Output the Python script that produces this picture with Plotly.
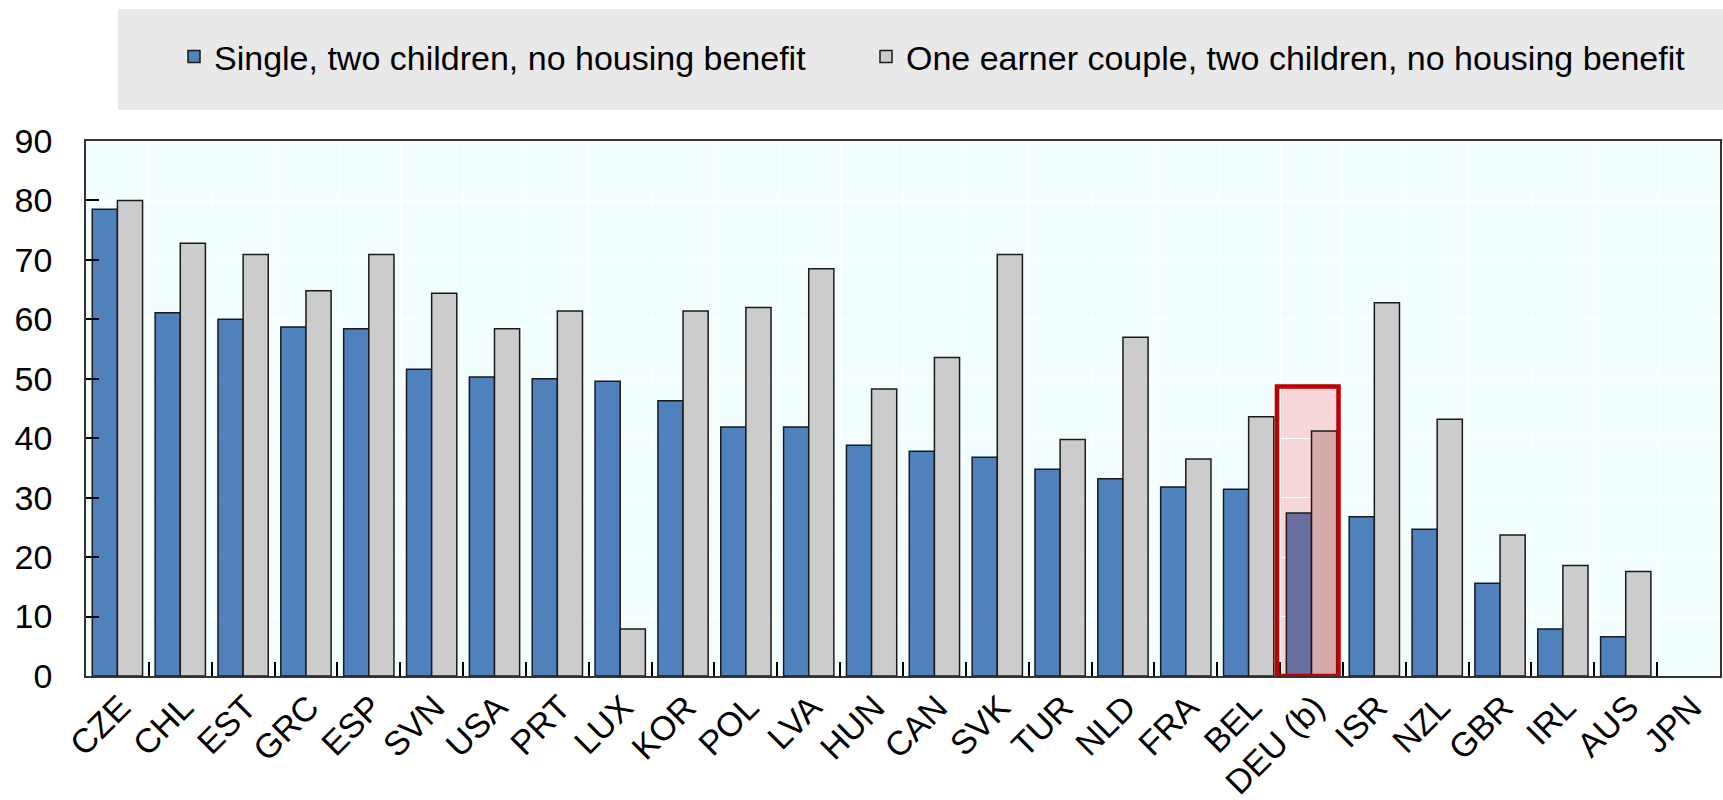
import plotly.graph_objects as go

categories = ["CZE", "CHL", "EST", "GRC", "ESP", "SVN", "USA", "PRT", "LUX", "KOR",
              "POL", "LVA", "HUN", "CAN", "SVK", "TUR", "NLD", "FRA", "BEL", "DEU (b)",
              "ISR", "NZL", "GBR", "IRL", "AUS", "JPN"]
single = [78.5, 61.1, 60.0, 58.7, 58.4, 51.6, 50.3, 50.0, 49.6, 46.3,
          41.9, 41.9, 38.8, 37.8, 36.8, 34.8, 33.2, 31.8, 31.4, 27.4,
          26.8, 24.7, 15.6, 7.9, 6.6, None]
couple = [80.0, 72.8, 70.9, 64.8, 70.9, 64.4, 58.4, 61.4, 7.9, 61.4,
          62.0, 68.5, 48.3, 53.6, 70.9, 39.8, 57.0, 36.5, 43.6, 41.2,
          62.8, 43.2, 23.7, 18.6, 17.6, None]
highlight = "DEU (b)"
series_names = ["Single, two children, no housing benefit",
                "One earner couple, two children, no housing benefit"]

BLUE, GREY = "#4f81bd", "#cccccc"
BLUE_HL, GREY_HL = "#6b6fa0", "#d4aaaa"

blue_colors = [BLUE_HL if c == highlight else BLUE for c in categories]
grey_colors = [GREY_HL if c == highlight else GREY for c in categories]

FONT = "Liberation Sans, Arial, sans-serif"
FS = 34

fig = go.Figure()
fig.add_trace(go.Bar(x=categories, y=single, name=series_names[0], legend="legend",
                     marker=dict(color=blue_colors, line=dict(color="#1a1a1a", width=1.5))))
fig.add_trace(go.Bar(x=categories, y=couple, name=series_names[1], legend="legend2",
                     marker=dict(color=grey_colors, line=dict(color="#1a1a1a", width=1.5))))

hi = categories.index(highlight)
hi_top = 48.7
fig.add_shape(type="rect", xref="x", yref="y", x0=hi - 0.55, x1=hi + 0.43, y0=0, y1=hi_top,
              fillcolor="#f6d6d8", line=dict(width=0), layer="below")
fig.add_shape(type="rect", xref="x", yref="y", x0=hi - 0.55, x1=hi + 0.43, y0=0, y1=hi_top,
              fillcolor="rgba(0,0,0,0)", line=dict(color="#c00000", width=4.5), layer="above")

# legend background band
fig.add_shape(type="rect", xref="paper", yref="paper",
              x0=(118 - 86) / 1634, x1=1.01, y0=(676 - 110) / 535, y1=(676 - 9) / 535,
              fillcolor="#e9e9e9", line=dict(width=0), layer="below")

leg_common = dict(orientation="h", xanchor="left", y=(676 - 57) / 535, yanchor="middle",
                  bgcolor="rgba(0,0,0,0)", font=dict(size=FS, family=FONT))

fig.update_layout(
    width=1723, height=800, autosize=False,
    margin=dict(l=86, r=3, t=141, b=124, pad=0),
    paper_bgcolor="white", plot_bgcolor="#f2fefe",
    barmode="group", bargap=0.2, bargroupgap=0,
    font=dict(family=FONT, size=FS, color="black"),
    showlegend=True,
    legend=dict(x=(174 - 86) / 1634, **leg_common),
    legend2=dict(x=(866 - 86) / 1634, **leg_common),
)
fig.update_xaxes(type="category", range=[-0.5, len(categories) - 0.5], automargin=False,
                 tickson="boundaries", ticks="inside", ticklen=14, tickwidth=1.5, tickcolor="black",
                 tickangle=-45, tickfont=dict(size=FS, family=FONT), ticklabelshift=3,
                 ticklabelstandoff=-4,
                 showgrid=True, gridcolor="white", gridwidth=1,
                 showline=True, linecolor="#333333", linewidth=1.5, mirror=True)
fig.update_yaxes(range=[0, 90], tickmode="linear", tick0=0, dtick=10, automargin=False,
                 ticks="inside", ticklen=13, tickwidth=1.5, tickcolor="black",
                 ticklabelstandoff=25, tickfont=dict(size=FS, family=FONT),
                 showgrid=True, gridcolor="white", gridwidth=1, zeroline=False,
                 showline=True, linecolor="#333333", linewidth=1.5, mirror=True)

fig.write_html("out.html", config={"displayModeBar": False},
               post_script="document.body.style.margin='0';document.body.style.overflow='hidden';")
